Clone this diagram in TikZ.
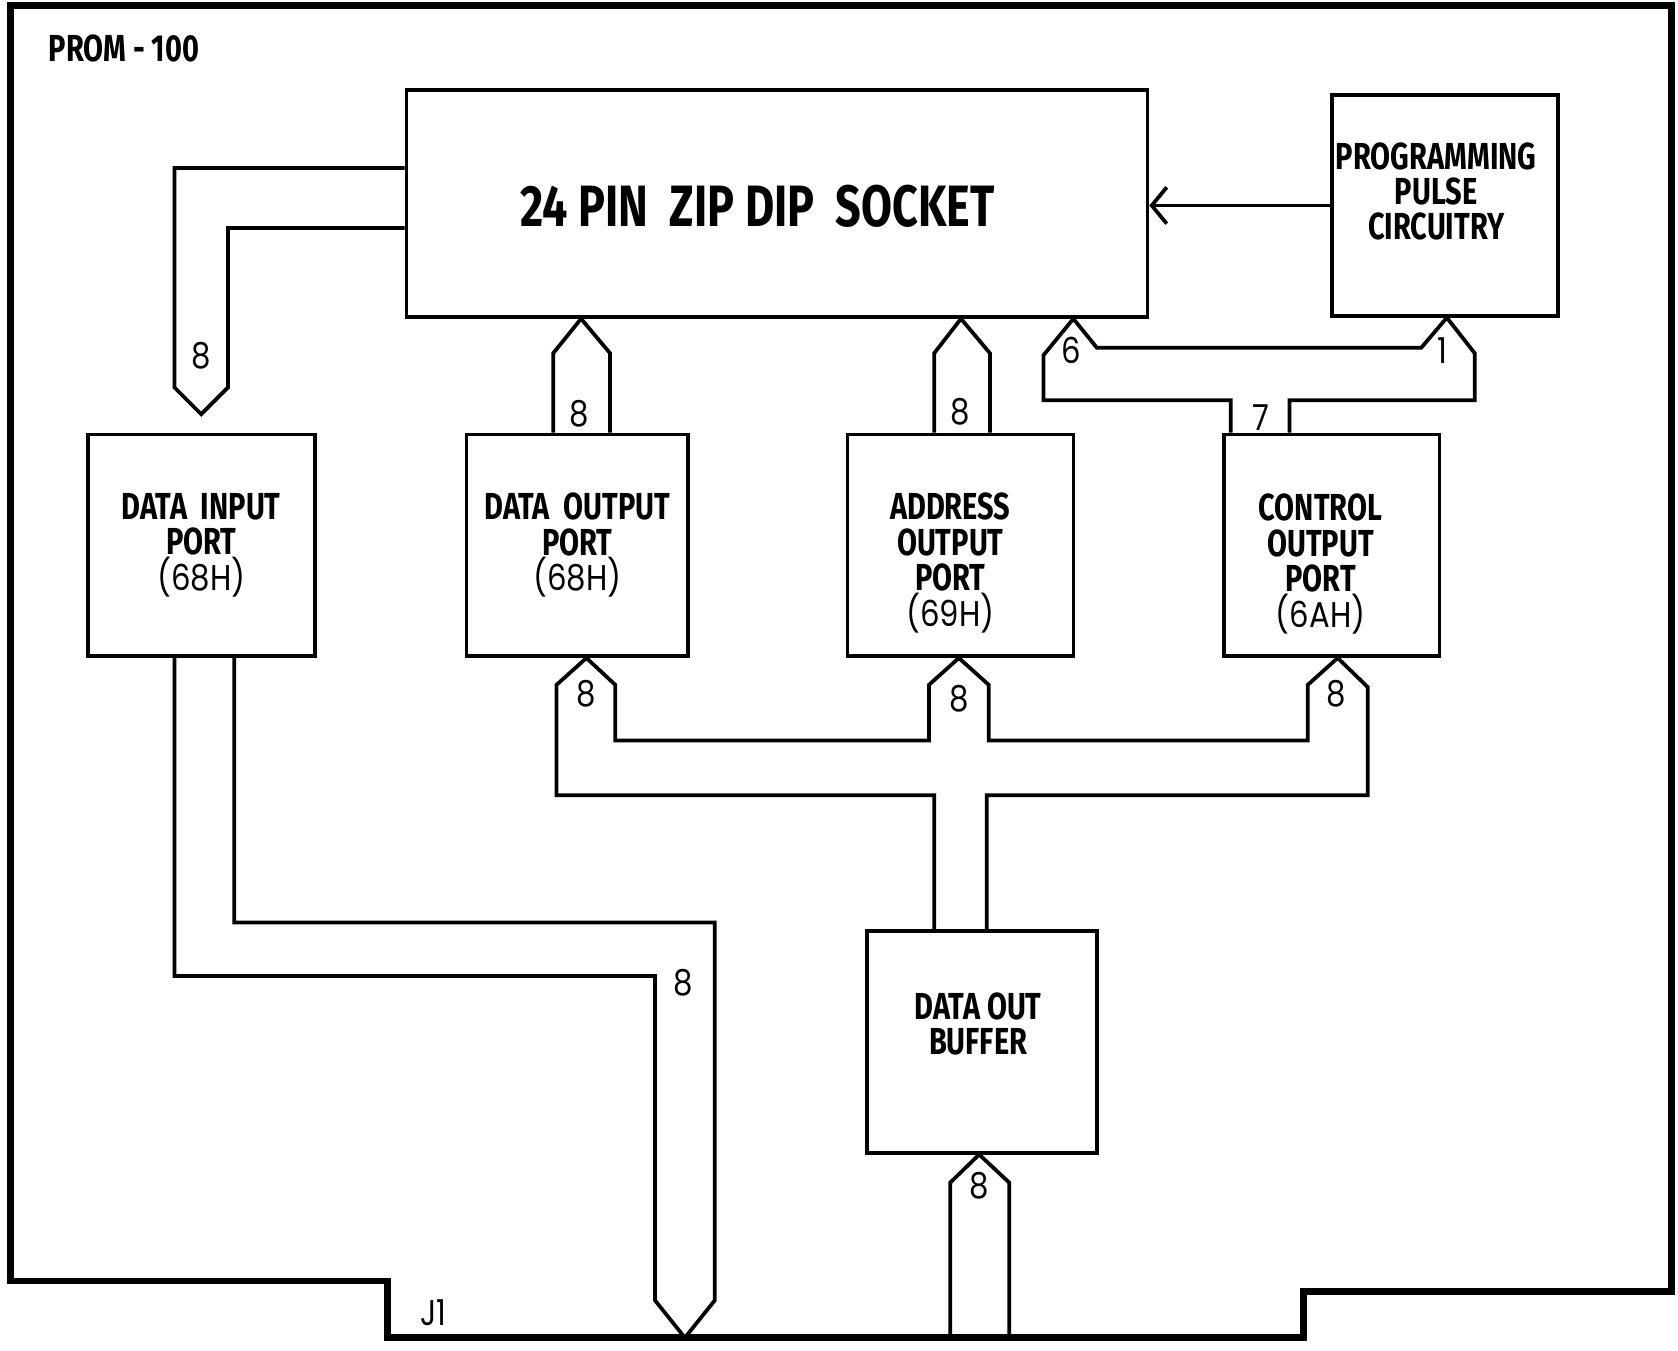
\documentclass[tikz,border=0pt]{standalone}
\usepackage{fontspec}
\newfontfamily\blkfont[FakeStretch=0.77]{Fira Sans}
\newfontfamily\numfont[FakeStretch=0.86]{Poppins}
\usetikzlibrary{arrows.meta}

\newcommand{\portaddr}[1]{{\numfont\mdseries\fontsize{9.5}{9.4}\selectfont(#1)}}

\begin{document}
\begin{tikzpicture}[
            x=0.01cm, y=-0.01cm,
            board/.style={line width=1.8pt, line join=miter},
            box/.style={draw, line width=1pt, align=center, inner sep=0pt, font=\blkfont\bfseries\fontsize{10}{9.4}\selectfont},
            txt/.style={align=center, inner sep=0pt, font=\blkfont\bfseries\fontsize{10}{9.4}\selectfont},
            bus/.style={line width=1pt, line join=miter},
            cnt/.style={inner sep=0pt, font=\numfont\fontsize{9.5}{9.5}\selectfont},
            arrow/.style={-{Straight Barb[length=1.4mm,width=3.4mm]}, line width=1pt}
        ]
        \useasboundingbox (0,0) rectangle (1568,1262);

        % board outline with edge connector
        \draw[board] (10,5) -- (1562,5) -- (1562,1207) -- (1218,1207) -- (1218,1250)
            -- (362,1250) -- (362,1197) -- (10,1197) -- cycle;
        \node[txt, font=\blkfont\bfseries\fontsize{10}{10}\selectfont] (title) at (116,45) {PROM - 100};
        \node[cnt] (j1) at (405,1227) {J1};
        \coordinate (edge-a) at (640,1250);
        \coordinate (edge-b) at (915,1250);

        % blocks
        \node[box, minimum width=6.92cm, minimum height=2.12cm] (sock) at (726,190) {};
        \node[txt, font=\blkfont\bfseries\fontsize{15.5}{16}\selectfont] (sock-t) at (708,193) {24 PIN\ \ ZIP DIP\ \ SOCKET};
        \node[box, minimum width=2.11cm, minimum height=2.06cm] (ppc) at (1350.5,192) {};
        \node[txt] (ppc-t) at (1342,179) {PROGRAMMING\\PULSE\\CIRCUITRY};
        \node[box, minimum width=2.12cm, minimum height=2.07cm] (dip) at (188,509.5) {DATA\ \ INPUT\\PORT\\\portaddr{68H}};
        \node[box, minimum width=2.07cm, minimum height=2.07cm] (dop) at (539.5,509.5) {DATA\ \ OUTPUT\\PORT\\\portaddr{68H}};
        \node[box, minimum width=2.11cm, minimum height=2.07cm] (aop) at (897.5,509.5) {};
        \node[txt] (aop-t) at (888,526) {ADDRESS\\OUTPUT\\PORT\\\portaddr{69H}};
        \node[box, minimum width=2.01cm, minimum height=2.07cm] (cop) at (1244.5,509.5) {};
        \node[txt] (cop-t) at (1234,527) {CONTROL\\OUTPUT\\PORT\\\portaddr{6AH}};
        \node[box, minimum width=2.15cm, minimum height=2.07cm] (dob) at (917.5,973.5) {};
        \node[txt] (dob-t) at (914,957) {DATA OUT\\BUFFER};

        \draw[arrow] (ppc.west) -- (ppc.west -| sock.east);

        % buses
        \draw[bus] (sock.west |- 0,157) -- (163,157) -- (163,362) -- (188,387)
            -- (213,362) -- (213,213) -- (sock.west |- 0,213);
        \draw[bus] (dop.north -| 517,0) -- (517,330) -- (sock.south -| 543,0)
            -- (570,330) -- (dop.north -| 570,0);
        \draw[bus] (aop.north -| 873,0) -- (873,330) -- (sock.south -| 898,0)
            -- (925,330) -- (aop.north -| 925,0);
        \draw[bus] (cop.north -| 1150,0) -- (1150,374) -- (975,374) -- (975,332)
            -- (sock.south -| 1003,0) -- (1025,325) -- (1328,325) -- (ppc.south -| 1352,0)
            -- (1378,330) -- (1378,374) -- (1205,374) -- (cop.north -| 1205,0);
        \draw[bus] (dob.north -| 873,0) -- (873,743) -- (520,743) -- (520,640)
            -- (dop.south -| 548,0) -- (575,640) -- (575,692) -- (868,692) -- (868,640)
            -- (aop.south -| 896,0) -- (924,640) -- (924,692) -- (1222,692) -- (1222,640)
            -- (cop.south -| 1250,0) -- (1278,642) -- (1278,743) -- (922,743)
            -- (dob.north -| 922,0);
        \draw[bus] (dip.south -| 163,0) -- (163,912) -- (612,912) -- (612,1215)
            -- (edge-a) -- (668,1215) -- (668,862) -- (219,862) -- (dip.south -| 219,0);
        \draw[bus] (edge-b -| 888,0) -- (888,1105) -- (dob.south -| 915,0)
            -- (943,1105) -- (edge-b -| 943,0);

        % bus widths
        \node[cnt] (w-dip) at (188,332) {8};
        \node[cnt] (w-dop) at (541,387) {8};
        \node[cnt] (w-aop) at (897,385) {8};
        \node[cnt] (w-six) at (1001,327) {6};
        \node[cnt] (w-one) at (1348,328) {1};
        \node[cnt] (w-cop) at (1178,390) {7};
        \node[cnt] (w-b1) at (548,648) {8};
        \node[cnt] (w-b2) at (896,653) {8};
        \node[cnt] (w-b3) at (1249,648) {8};
        \node[cnt] (w-j1) at (638,918) {8};
        \node[cnt] (w-dob) at (915,1108) {8};
        \end{tikzpicture}
\end{document}
